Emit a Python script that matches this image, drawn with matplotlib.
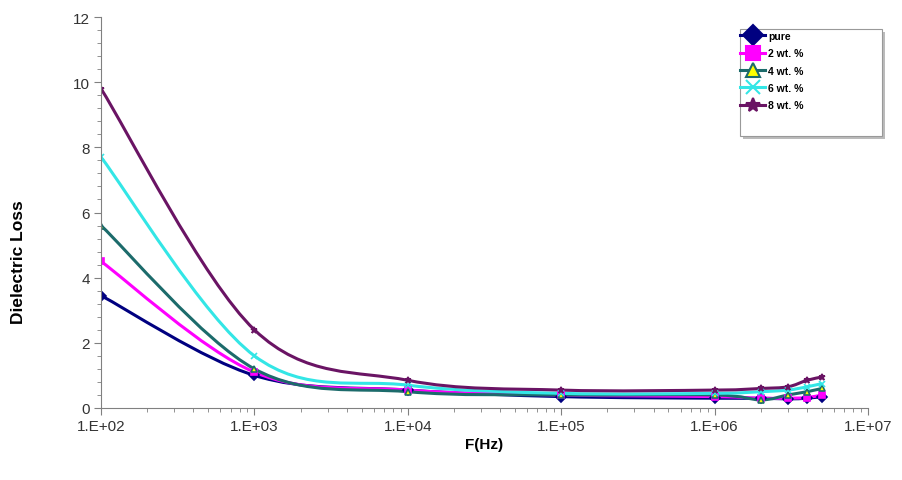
import numpy as np
import matplotlib
matplotlib.use("Agg")
import matplotlib.pyplot as plt
from matplotlib.path import Path
from matplotlib.patches import PathPatch, Rectangle
from matplotlib.lines import Line2D
from matplotlib.ticker import FixedLocator, MultipleLocator, LogLocator, NullFormatter

plt.rcParams['font.family'] = ['Liberation Sans', 'DejaVu Sans']

# frequency points (Hz)
freq = [1e2, 1e3, 1e4, 1e5, 1e6, 2e6, 3e6, 4e6, 5e6]

# dielectric loss values
pure = [3.45, 1.0, 0.55, 0.35, 0.3, 0.3, 0.28, 0.3, 0.35]
wt2 = [4.5, 1.1, 0.55, 0.4, 0.35, 0.3, 0.3, 0.32, 0.4]
wt4 = [5.6, 1.2, 0.5, 0.4, 0.4, 0.25, 0.4, 0.5, 0.6]
wt6 = [7.7, 1.6, 0.7, 0.45, 0.45, 0.5, 0.55, 0.65, 0.75]
wt8 = [9.8, 2.4, 0.85, 0.55, 0.55, 0.6, 0.65, 0.85, 0.95]

labels = ["pure", "2 wt. %", "4 wt. %", "6 wt. %", "8 wt. %"]
xticklabels = ["1.E+02", "1.E+03", "1.E+04", "1.E+05", "1.E+06", "1.E+07"]

series = [pure, wt2, wt4, wt6, wt8]
line_cols = ["#000080", "#ff00ff", "#1c6b6b", "#33e6e6", "#6a1464"]
marker = ["D", "s", "^", "x", "*"]
face = ["#000080", "#ff00ff", "#ffff00", "#33e6e6", "#6a1464"]


def smooth_path(x, y):
    # Excel-like smoothed line: Catmull-Rom as cubic Bezier in log10(x) space
    lx = np.log10(x)
    pts = np.column_stack([lx, y])
    verts = [pts[0]]
    codes = [Path.MOVETO]
    n = len(pts)
    for i in range(n - 1):
        p0 = pts[max(i - 1, 0)]
        p1 = pts[i]
        p2 = pts[i + 1]
        p3 = pts[min(i + 2, n - 1)]
        c1 = p1 + (p2 - p0) / 6
        c2 = p2 - (p3 - p1) / 6
        verts += [c1, c2, p2]
        codes += [Path.CURVE4] * 3
    verts = np.array(verts)
    verts[:, 0] = 10 ** verts[:, 0]
    return Path(verts, codes)


W, H = 903, 481
fig = plt.figure(figsize=(W / 100, H / 100), dpi=100)
ax = fig.add_axes([101 / W, 1 - 409 / H, 767 / W, 391 / H])
ax.set_xscale("log")

handles = []
for vals, lc, m, fc, lab in zip(series, line_cols, marker, face, labels):
    patch = PathPatch(smooth_path(freq, vals), facecolor="none", edgecolor=lc, lw=2.2,
                      transform=ax.transData)
    ax.add_patch(patch)
    ax.plot(freq, vals, linestyle="none", marker=m, markersize=5, color=lc,
            markerfacecolor=fc, markeredgecolor=lc, markeredgewidth=1.2)
    handles.append(Line2D([], [], color=lc, lw=2.2, marker=m, markersize=10,
                          markerfacecolor=fc, markeredgecolor=lc, markeredgewidth=1.5))

ax.set_xlim(1e2, 1e7)
ax.set_ylim(0, 12)
ax.xaxis.set_major_locator(FixedLocator([1e2, 1e3, 1e4, 1e5, 1e6, 1e7]))
ax.set_xticklabels(xticklabels)
ax.xaxis.set_minor_locator(LogLocator(base=10, subs=np.arange(2, 10), numticks=20))
ax.xaxis.set_minor_formatter(NullFormatter())
ax.yaxis.set_major_locator(MultipleLocator(2))
ax.yaxis.set_minor_locator(MultipleLocator(0.4))

for s in ["top", "right"]:
    ax.spines[s].set_visible(False)
for s in ["left", "bottom"]:
    ax.spines[s].set_color("#808080")
ax.tick_params(which="major", length=5, color="#808080", labelsize=11,
               labelcolor="#333333", pad=3)
ax.tick_params(which="minor", length=3, color="#808080")

ax.set_xlabel("F(Hz)", fontsize=11, fontweight="bold")
ax.xaxis.set_label_coords((484 - 101) / 767, -(438 - 409) / 391)
ax.set_ylabel("Dielectric Loss", fontsize=12.5, fontweight="bold")
ax.yaxis.set_label_coords((26 - 101) / 767, (409 - 262) / 391)

# legend box (taller than its entries, as in the original)
fig.patches.append(Rectangle((743 / W, 1 - 140 / H), 142 / W, 107 / H,
                             transform=fig.transFigure, facecolor="#bbbbbb",
                             edgecolor="none", zorder=1))
fig.patches.append(Rectangle((740 / W, 1 - 137 / H), 142 / W, 107 / H,
                             transform=fig.transFigure, facecolor="white",
                             edgecolor="#999999", lw=0.8, zorder=2))

leg = fig.legend(handles, labels, loc="upper left", bbox_to_anchor=(738 / W, 1 - 30 / H),
                 fontsize=7.5, frameon=False, handlelength=2.4, handletextpad=0.3,
                 labelspacing=0.7, borderpad=0.2, borderaxespad=0,
                 prop={"size": 7.5, "weight": "bold"})
leg.set_zorder(3)

fig.savefig("out.png", dpi=100)
